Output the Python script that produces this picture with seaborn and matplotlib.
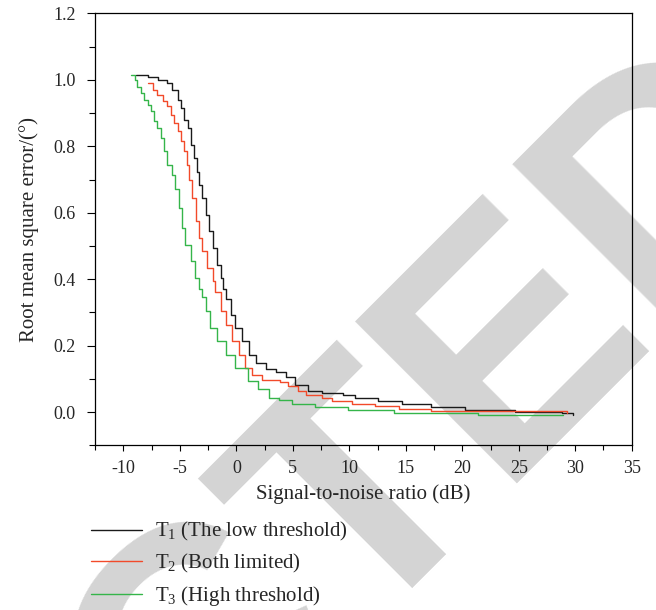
import matplotlib
matplotlib.use("Agg")
import matplotlib.pyplot as plt
import seaborn as sns
from matplotlib.ticker import MultipleLocator, FormatStrFormatter

# values (SNR in dB, RMSE in degrees)
t1_snr = [-8.9, -7.8, -6.9, -6.1, -5.7, -5.2, -4.9, -4.6, -4.3, -4.0, -3.75,
          -3.5, -3.3, -3.0, -2.7, -2.4, -2.1, -1.7, -1.4, -1.2, -0.9, -0.5,
          -0.1, 0.5, 1.1, 1.7, 2.6, 3.5, 4.4, 5.2, 6.3, 7.6, 9.4, 10.5, 12.5,
          14.7, 17.2, 20.2, 24.7, 28.8, 29.8]
t1_rmse = [1.016, 1.009, 1.0, 0.99, 0.97, 0.94, 0.915, 0.88, 0.855, 0.805,
           0.765, 0.724, 0.684, 0.644, 0.594, 0.544, 0.494, 0.444, 0.403,
           0.37, 0.34, 0.293, 0.253, 0.213, 0.173, 0.148, 0.131, 0.121, 0.105,
           0.083, 0.063, 0.058, 0.050, 0.043, 0.033, 0.023, 0.015, 0.006,
           0.001, -0.004, -0.01]

t2_snr = [-7.8, -7.4, -7.0, -6.5, -6.1, -5.8, -5.5, -5.2, -4.9, -4.6, -4.4,
          -4.2, -3.95, -3.6, -3.3, -3.0, -2.6, -2.1, -1.85, -1.4, -0.9, -0.4,
          0.2, 0.8, 1.4, 2.3, 3.9, 4.6, 5.5, 6.2, 7.6, 8.5, 10.2, 12.3, 14.4,
          17.2, 29.3]
t2_rmse = [0.99, 0.97, 0.955, 0.935, 0.92, 0.895, 0.87, 0.845, 0.815, 0.785,
           0.745, 0.70, 0.644, 0.574, 0.524, 0.484, 0.434, 0.394, 0.36, 0.303,
           0.263, 0.213, 0.173, 0.133, 0.113, 0.098, 0.09, 0.08, 0.063, 0.05,
           0.043, 0.033, 0.025, 0.018, 0.008, 0.002, -0.002]

t3_snr = [-9.3, -9.0, -8.75, -8.45, -8.15, -7.85, -7.55, -7.25, -7.0, -6.7,
          -6.4, -6.1, -5.7, -5.4, -5.1, -4.8, -4.5, -4.0, -3.7, -3.3, -3.0,
          -2.7, -2.3, -1.7, -0.9, -0.1, 1.0, 1.9, 2.9, 3.8, 4.9, 7.0, 9.9,
          14.0, 21.4, 28.9]
t3_rmse = [1.015, 1.0, 0.98, 0.96, 0.94, 0.925, 0.905, 0.875, 0.855, 0.825,
           0.785, 0.745, 0.715, 0.67, 0.614, 0.554, 0.504, 0.454, 0.404, 0.37,
           0.345, 0.303, 0.253, 0.213, 0.173, 0.133, 0.093, 0.068, 0.043,
           0.035, 0.023, 0.015, 0.006, -0.002, -0.01, -0.01]

labels = ["T$_1$ (The low threshold)", "T$_2$ (Both limited)",
          "T$_3$ (High threshold)"]
colors = ["#1a1a1a", "#f24a2a", "#35b54a"]
x_ticks = [-10, -5, 0, 5, 10, 15, 20, 25, 30, 35]
y_ticks = [0.0, 0.2, 0.4, 0.6, 0.8, 1.0, 1.2]


def draw_chart():
    sns.set_style("ticks")
    plt.rcParams["font.family"] = ["Liberation Serif", "DejaVu Serif"]
    plt.rcParams["mathtext.fontset"] = "custom"
    plt.rcParams["mathtext.rm"] = "Liberation Serif"
    plt.rcParams["mathtext.default"] = "regular"
    plt.rcParams["axes.unicode_minus"] = False

    fig = plt.figure(figsize=(6.56, 6.10), dpi=100)
    fig.patch.set_facecolor("white")
    ax = fig.add_axes([0.145, 0.270, 0.818, 0.708])
    ax.set_facecolor("none")

    # grey retraction stamp behind the plot
    fig.text(1.255, 0.746, "RETRACTED", fontsize=240, fontweight="bold",
             family="Liberation Sans", color="#d4d4d4", rotation=45,
             rotation_mode="anchor", ha="right", va="baseline", zorder=-5)

    series = [(t1_snr, t1_rmse), (t2_snr, t2_rmse), (t3_snr, t3_rmse)]
    for (snr, rmse), lab, col in zip(series, labels, colors):
        sns.lineplot(x=snr, y=rmse, ax=ax, color=col, lw=1.0,
                     drawstyle="steps-post", label=lab, legend=False,
                     sort=False, errorbar=None)

    ax.set_xlim(-12.5, 35)
    ax.set_ylim(-0.1, 1.2)
    ax.set_xticks(x_ticks)
    ax.set_yticks(y_ticks)
    ax.xaxis.set_minor_locator(MultipleLocator(2.5))
    ax.yaxis.set_minor_locator(MultipleLocator(0.1))
    ax.yaxis.set_major_formatter(FormatStrFormatter("%.1f"))
    ax.tick_params(axis="x", which="major", length=4.5, width=0.8, pad=6,
                   labelsize=13, color="black")
    ax.tick_params(axis="x", which="minor", length=3.5, width=0.8,
                   color="black")
    ax.tick_params(axis="y", which="major", length=6, width=0.8, pad=8,
                   labelsize=13, color="black")
    ax.tick_params(axis="y", which="minor", length=4, width=0.8,
                   color="black")
    for side in ax.spines.values():
        side.set_visible(True)
        side.set_color("black")
        side.set_linewidth(0.9)

    ax.set_xlabel("Signal-to-noise ratio (dB)", fontsize=15, labelpad=5)
    ax.set_ylabel("Root mean square error/(°)", fontsize=15, labelpad=10)

    handles, labs = ax.get_legend_handles_labels()
    fig.legend(handles, labs, loc="upper left", bbox_to_anchor=(0.139, 0.147),
               frameon=False, fontsize=15, handlelength=2.45,
               handletextpad=0.63, labelspacing=0.42, borderpad=0,
               borderaxespad=0)

    fig.savefig("out.png", dpi=100, facecolor="white")


if __name__ == "__main__":
    draw_chart()
